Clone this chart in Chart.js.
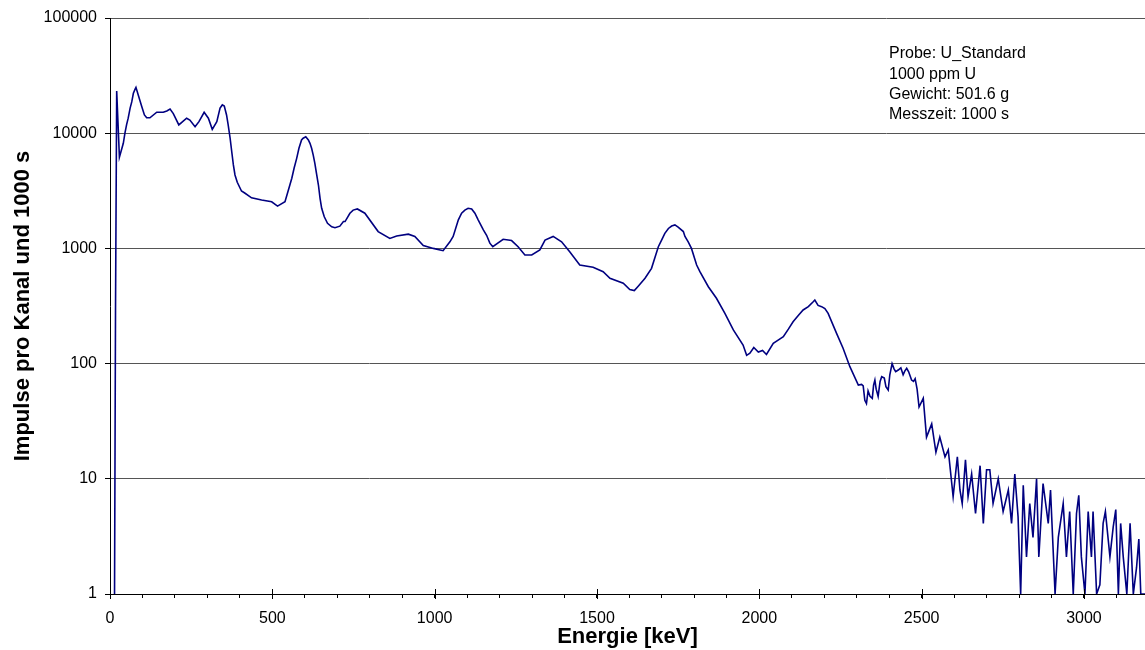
<!DOCTYPE html>
<html>
<head>
<meta charset="utf-8">
<script src="https://cdn.jsdelivr.net/npm/chart.js@4/dist/chart.umd.min.js"></script>
<style>
  html, body { margin: 0; padding: 0; background: #fff; }
  #wrap { width: 1145px; height: 650px; position: relative; }
</style>
</head>
<body>
<div id="wrap"><canvas id="spectrum"></canvas></div>
<script>
// gamma spectrum, U standard sample (energy in keV, counts per channel in 1000 s)
const energies = [
  14, 17, 20.6, 29, 41, 46, 51, 56, 62, 67, 72, 77, 80, 87, 98, 106, 113, 123, 144, 164,
  175, 185, 195, 212, 236, 246, 262, 274, 290, 303, 315, 329, 339, 346, 352, 359, 364, 370, 375, 380,
  385, 392, 405, 416, 436, 467, 498, 516, 539, 554, 560, 567, 575, 582, 590, 595, 603, 611, 616, 621,
  626, 631, 636, 642, 647, 652, 660, 670, 683, 693, 708, 719, 724, 739, 749, 762, 785, 826, 862, 883,
  919, 939, 965, 996, 1026, 1047, 1057, 1073, 1083, 1093, 1103, 1114, 1124, 1134, 1150, 1160, 1170, 1179, 1211, 1237,
  1257, 1278, 1299, 1324, 1340, 1365, 1391, 1416, 1447, 1488, 1519, 1540, 1581, 1601, 1615, 1627, 1648, 1668, 1689, 1699,
  1709, 1720, 1730, 1740, 1750, 1766, 1771, 1781, 1791, 1807, 1817, 1843, 1868, 1894, 1920, 1950, 1961, 1971, 1983, 1997,
  2010, 2022, 2043, 2058, 2074, 2090, 2104, 2120, 2135, 2151, 2166, 2171, 2181, 2192, 2202, 2212, 2238, 2258, 2279, 2305,
  2315, 2320, 2325, 2330, 2335, 2341, 2348, 2352, 2356, 2360, 2366, 2372, 2377, 2385, 2390, 2397, 2402, 2409, 2415, 2420,
  2428, 2436, 2443, 2448, 2454, 2460, 2469, 2475, 2480, 2486, 2492, 2505, 2515, 2531, 2544, 2556, 2572, 2582, 2597, 2610,
  2618, 2625, 2635, 2643, 2654, 2666, 2680, 2690, 2700, 2710, 2720, 2736, 2751, 2767, 2777, 2787, 2797, 2805, 2813, 2823,
  2833, 2843, 2854, 2861, 2874, 2890, 2897, 2911, 2921, 2936, 2946, 2956, 2967, 2977, 2984, 2992, 3003, 3013, 3023, 3028,
  3039, 3049, 3059, 3066, 3080, 3090, 3098, 3106, 3113, 3121, 3132, 3142, 3152, 3162, 3169, 3175, 3188
];
const counts = [
  1, 300, 23200, 6200, 8170, 10000, 11800, 13500, 16500, 18700, 22200, 24000, 25000, 21500, 17000, 14400, 13600, 13600, 15200, 15200,
  15600, 16200, 14800, 11800, 13500, 13000, 11400, 12600, 15200, 13500, 10800, 12600, 16500, 17600, 17200, 14400, 11800, 9040, 6900, 5300,
  4340, 3750, 3150, 3010, 2750, 2630, 2540, 2330, 2540, 3550, 4060, 4960, 6050, 7400, 8730, 9040, 9300, 8730, 8170, 7400,
  6460, 5480, 4490, 3550, 2720, 2230, 1880, 1650, 1540, 1510, 1560, 1710, 1710, 2020, 2150, 2200, 2020, 1400, 1220, 1280,
  1330, 1270, 1060, 1000, 955, 1140, 1270, 1770, 2020, 2150, 2230, 2200, 2020, 1770, 1450, 1300, 1110, 1035, 1200, 1170,
  1035, 877, 877, 970, 1180, 1270, 1140, 935, 718, 686, 628, 550, 498, 440, 430, 470, 550, 671, 1035, 1180,
  1350, 1490, 1565, 1600, 1530, 1400, 1270, 1140, 1000, 718, 628, 465, 369, 273, 196, 145, 118, 123, 138, 126,
  130, 120, 150, 160, 171, 200, 231, 262, 292, 312, 344, 356, 320, 312, 300, 273, 183, 136, 94, 65,
  66, 64, 48, 45, 58, 52, 50, 65, 72, 60, 52, 70, 77, 75, 63, 59, 80, 100, 90, 85,
  88, 92, 80, 86, 91, 85, 72, 70, 74, 60, 42, 50, 23, 30, 17, 23, 15.5, 17.8, 7, 15.5,
  8, 6.1, 14.6, 7, 11, 5, 13, 4.1, 12, 12, 6.1, 10, 5.2, 8, 4.1, 11, 4.7, 1, 8.8, 2.1,
  6.1, 3.1, 10, 2.1, 9.1, 4.1, 8, 1, 3.1, 6.1, 2.1, 5.2, 1, 5, 7.2, 2.1, 1, 5.2, 2.1, 5.2,
  1, 1.2, 4.1, 5.2, 2.1, 3.8, 5.4, 1, 4.1, 2.1, 1, 4.1, 1, 1.7, 3, 1, 1
];
const yTicks = [1, 10, 100, 1000, 10000, 100000];
const xMajor = [0, 500, 1000, 1500, 2000, 2500, 3000];
const infoLines = ["Probe: U_Standard", "1000 ppm U", "Gewicht: 501.6 g", "Messzeit: 1000 s"];

const FONT = "'Liberation Sans', Arial, sans-serif";

// longer major ticks on the energy axis, crossing the axis line
const majorTicks = {
  id: "majorTicks",
  afterDraw(chart) {
    const { ctx, scales: { x } } = chart;
    ctx.save();
    ctx.strokeStyle = "#000";
    ctx.lineWidth = 1;
    xMajor.forEach(v => {
      const px = Math.round(x.getPixelForValue(v)) + 0.5;
      ctx.beginPath();
      ctx.moveTo(px, x.top - 5);
      ctx.lineTo(px, x.top + 5);
      ctx.stroke();
    });
    ctx.restore();
  }
};

// sample info text in the upper right
const infoBox = {
  id: "infoBox",
  afterDraw(chart) {
    const { ctx } = chart;
    ctx.save();
    ctx.fillStyle = "#000";
    ctx.font = "16px " + FONT;
    ctx.textBaseline = "middle";
    infoLines.forEach((t, i) => ctx.fillText(t, 889, 54 + i * 20.3));
    ctx.restore();
  }
};

new Chart(document.getElementById("spectrum"), {
  type: "line",
  data: {
    datasets: [{
      data: energies.map((e, i) => ({ x: e, y: counts[i] })),
      borderColor: "#000080",
      borderWidth: 1.6,
      pointRadius: 0,
      tension: 0,
      fill: false
    }]
  },
  options: {
    responsive: true,
    maintainAspectRatio: false,
    animation: false,
    layout: { padding: { top: 18, right: 0, left: 0, bottom: 0 } },
    plugins: { legend: { display: false }, tooltip: { enabled: false } },
    scales: {
      x: {
        type: "linear",
        min: 0,
        max: 3188,
        afterFit(scale) { scale.height = 56; },
        border: { color: "#000", width: 1 },
        grid: { drawOnChartArea: false, drawTicks: true, tickLength: 4, color: "#000" },
        ticks: {
          stepSize: 100,
          includeBounds: false,
          autoSkip: false,
          maxRotation: 0,
          padding: 11,
          color: "#000",
          font: { family: FONT, size: 16 },
          callback: v => (v % 500 === 0 ? String(v) : "")
        },
        title: {
          display: true,
          text: "Energie [keV]",
          color: "#000",
          padding: { top: 0, bottom: 0 },
          font: { family: FONT, size: 22, weight: "bold" }
        }
      },
      y: {
        type: "logarithmic",
        min: 1,
        max: 100000,
        afterFit(scale) { scale.width = 110; },
        afterBuildTicks(scale) { scale.ticks = yTicks.map(v => ({ value: v })); },
        border: { color: "#000", width: 1 },
        grid: { color: "#555", lineWidth: 1, tickLength: 5, tickColor: "#000" },
        ticks: {
          padding: 8,
          color: "#000",
          font: { family: FONT, size: 16 },
          callback: v => String(v)
        },
        title: {
          display: true,
          text: "Impulse pro Kanal und 1000 s",
          color: "#000",
          padding: { top: 10, bottom: 0 },
          font: { family: FONT, size: 22, weight: "bold" }
        }
      }
    }
  },
  plugins: [majorTicks, infoBox]
});
</script>
</body>
</html>
